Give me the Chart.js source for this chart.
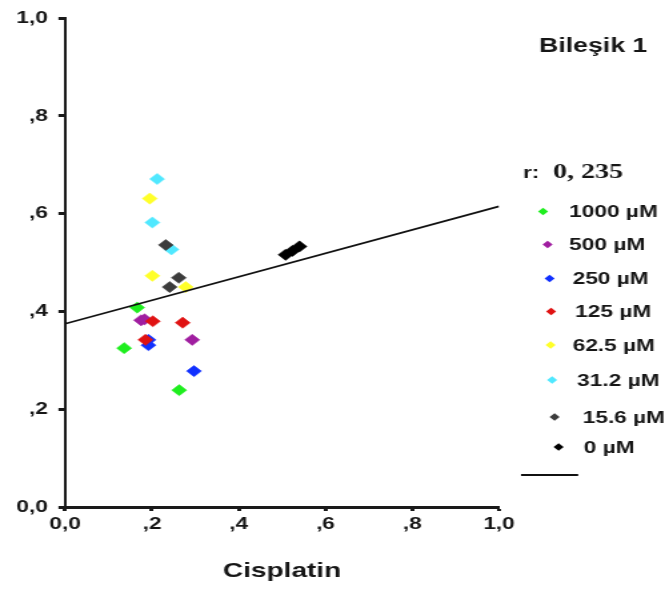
<!DOCTYPE html>
<html>
<head>
<meta charset="utf-8">
<script src="https://cdn.jsdelivr.net/npm/chart.js@4"></script>
<style>
  html, body { margin: 0; padding: 0; background: #fff; overflow: hidden; }
  #wrap { position: absolute; left: 0; top: 0; width: 503.76px; height: 590px; transform: scaleX(1.33); transform-origin: 0 0; }
</style>
</head>
<body>
<div id="wrap"><canvas id="c"></canvas></div>
<script>
// ---- data ----
const categories = ['1000 µM', '500 µM', '250 µM', '125 µM', '62.5 µM', '31.2 µM', '15.6 µM', '0 µM'];
const pts1000 = [{x: 0.166, y: 0.408}, {x: 0.136, y: 0.325}, {x: 0.263, y: 0.239}];
const pts500  = [{x: 0.175, y: 0.382}, {x: 0.183, y: 0.384}, {x: 0.293, y: 0.342}];
const pts250  = [{x: 0.192, y: 0.342}, {x: 0.192, y: 0.331}, {x: 0.297, y: 0.278}];
const pts125  = [{x: 0.202, y: 0.380}, {x: 0.271, y: 0.377}, {x: 0.185, y: 0.342}];
const pts62   = [{x: 0.195, y: 0.631}, {x: 0.201, y: 0.473}, {x: 0.278, y: 0.450}];
const pts31   = [{x: 0.212, y: 0.671}, {x: 0.201, y: 0.582}, {x: 0.245, y: 0.527}];
const pts15   = [{x: 0.232, y: 0.536}, {x: 0.262, y: 0.469}, {x: 0.241, y: 0.450}];
const pts0    = [{x: 0.508, y: 0.516}, {x: 0.524, y: 0.524}, {x: 0.540, y: 0.533}];
const fitLine = [{x: 0, y: 0.375}, {x: 1, y: 0.615}];
const rValue = '0, 235';
const chartTitle = 'Bileşik 1';
const xAxisTitle = 'Cisplatin';
const xTickLabels = ['0,0', ',2', ',4', ',6', ',8', '1,0'];
const yTickLabels = ['0,0', ',2', ',4', ',6', ',8', '1,0'];

// ---- styles ----
const seriesColors = ['#1fee1f', '#a01ea0', '#1030ff', '#e01212', '#ffff2a', '#50e8ff', '#3c3c3c', '#000000'];
const S = 1.33; // horizontal stretch of the reference picture
const FONT = "'Liberation Sans', Arial, sans-serif";
const TXT = '#161616';

const seriesPoints = [pts1000, pts500, pts250, pts125, pts62, pts31, pts15, pts0];
const datasets = seriesPoints.map((pts, i) => ({
  type: 'scatter',
  label: categories[i],
  data: pts,
  pointStyle: 'rectRot',
  pointRadius: 5.6,
  pointHoverRadius: 5.6,
  pointBackgroundColor: seriesColors[i],
  pointBorderColor: seriesColors[i],
  pointBorderWidth: 0.5,
  order: 20 - i
}));
datasets.push({
  type: 'line',
  label: 'fit',
  data: fitLine,
  borderColor: '#111',
  borderWidth: 1.7,
  pointRadius: 0,
  fill: false,
  order: 0
});

const legendPlugin = {
  id: 'sideLegend',
  afterDraw(chart) {
    const ctx = chart.ctx;
    ctx.save();
    ctx.fillStyle = TXT;
    ctx.textBaseline = 'middle';
    // title
    ctx.font = 'bold 20px ' + FONT;
    ctx.textAlign = 'center';
    ctx.fillText(chartTitle, 592 / S, 46);
    // r value
    ctx.textAlign = 'left';
    ctx.font = 'bold 17px ' + FONT;
    ctx.fillText('r:', 522 / S, 173);
    ctx.font = 'bold 21px "Liberation Serif", "DejaVu Serif", serif';
    ctx.fillText(rValue, 552 / S, 173);
    // items
    const mx = [542, 546.5, 548.5, 550, 549.5, 551, 553.5, 557.5];
    const tx = [568, 568, 571.5, 574, 571.5, 576, 581.5, 582.5];
    const ys = [211.5, 244.5, 278.5, 311.5, 345, 380, 417, 447];
    ctx.font = 'bold 17px ' + FONT;
    categories.forEach((lab, i) => {
      const cx = mx[i] / S, cy = ys[i], r = 3.8;
      ctx.fillStyle = seriesColors[i];
      ctx.beginPath();
      ctx.moveTo(cx - r, cy);
      ctx.lineTo(cx, cy - r);
      ctx.lineTo(cx + r, cy);
      ctx.lineTo(cx, cy + r);
      ctx.closePath();
      ctx.fill();
      ctx.fillStyle = TXT;
      ctx.fillText(lab, tx[i] / S, cy + 1);
    });
    // fit line key
    ctx.strokeStyle = '#111';
    ctx.lineWidth = 1.8;
    ctx.beginPath();
    ctx.moveTo(520 / S, 475);
    ctx.lineTo(577 / S, 475);
    ctx.stroke();
    ctx.restore();
  }
};

new Chart(document.getElementById('c'), {
  data: { datasets },
  options: {
    responsive: true,
    maintainAspectRatio: false,
    animation: false,
    events: [],
    layout: { padding: { left: 0, right: 503.76 - 498 / S, top: 17, bottom: 0 } },
    plugins: { legend: { display: false }, tooltip: { enabled: false } },
    scales: {
      x: {
        type: 'linear',
        min: 0, max: 1,
        afterFit(s) { s.height = 83; },
        border: { display: true, color: '#1a1a1a', width: 3 },
        grid: { drawOnChartArea: false, drawTicks: true, tickLength: 4, tickWidth: 3, tickColor: '#1a1a1a' },
        ticks: {
          stepSize: 0.2, padding: 3, color: TXT,
          font: { family: FONT, size: 17, weight: 'bold' },
          maxRotation: 0,
          callback: (v, i) => xTickLabels[i]
        },
        title: {
          display: true, text: xAxisTitle, color: TXT,
          font: { family: FONT, size: 21, weight: 'bold' },
          padding: { top: 0, bottom: 6 }
        }
      },
      y: {
        type: 'linear',
        min: 0, max: 1,
        afterFit(s) { s.width = 65 / S; },
        border: { display: true, color: '#1a1a1a', width: 2 },
        grid: { drawOnChartArea: false, drawTicks: true, tickLength: 5, tickWidth: 3, tickColor: '#1a1a1a' },
        ticks: {
          stepSize: 0.2, padding: 8, color: TXT,
          font: { family: FONT, size: 17, weight: 'bold' },
          callback: (v, i) => yTickLabels[i]
        }
      }
    }
  },
  plugins: [legendPlugin]
});
</script>
</body>
</html>
